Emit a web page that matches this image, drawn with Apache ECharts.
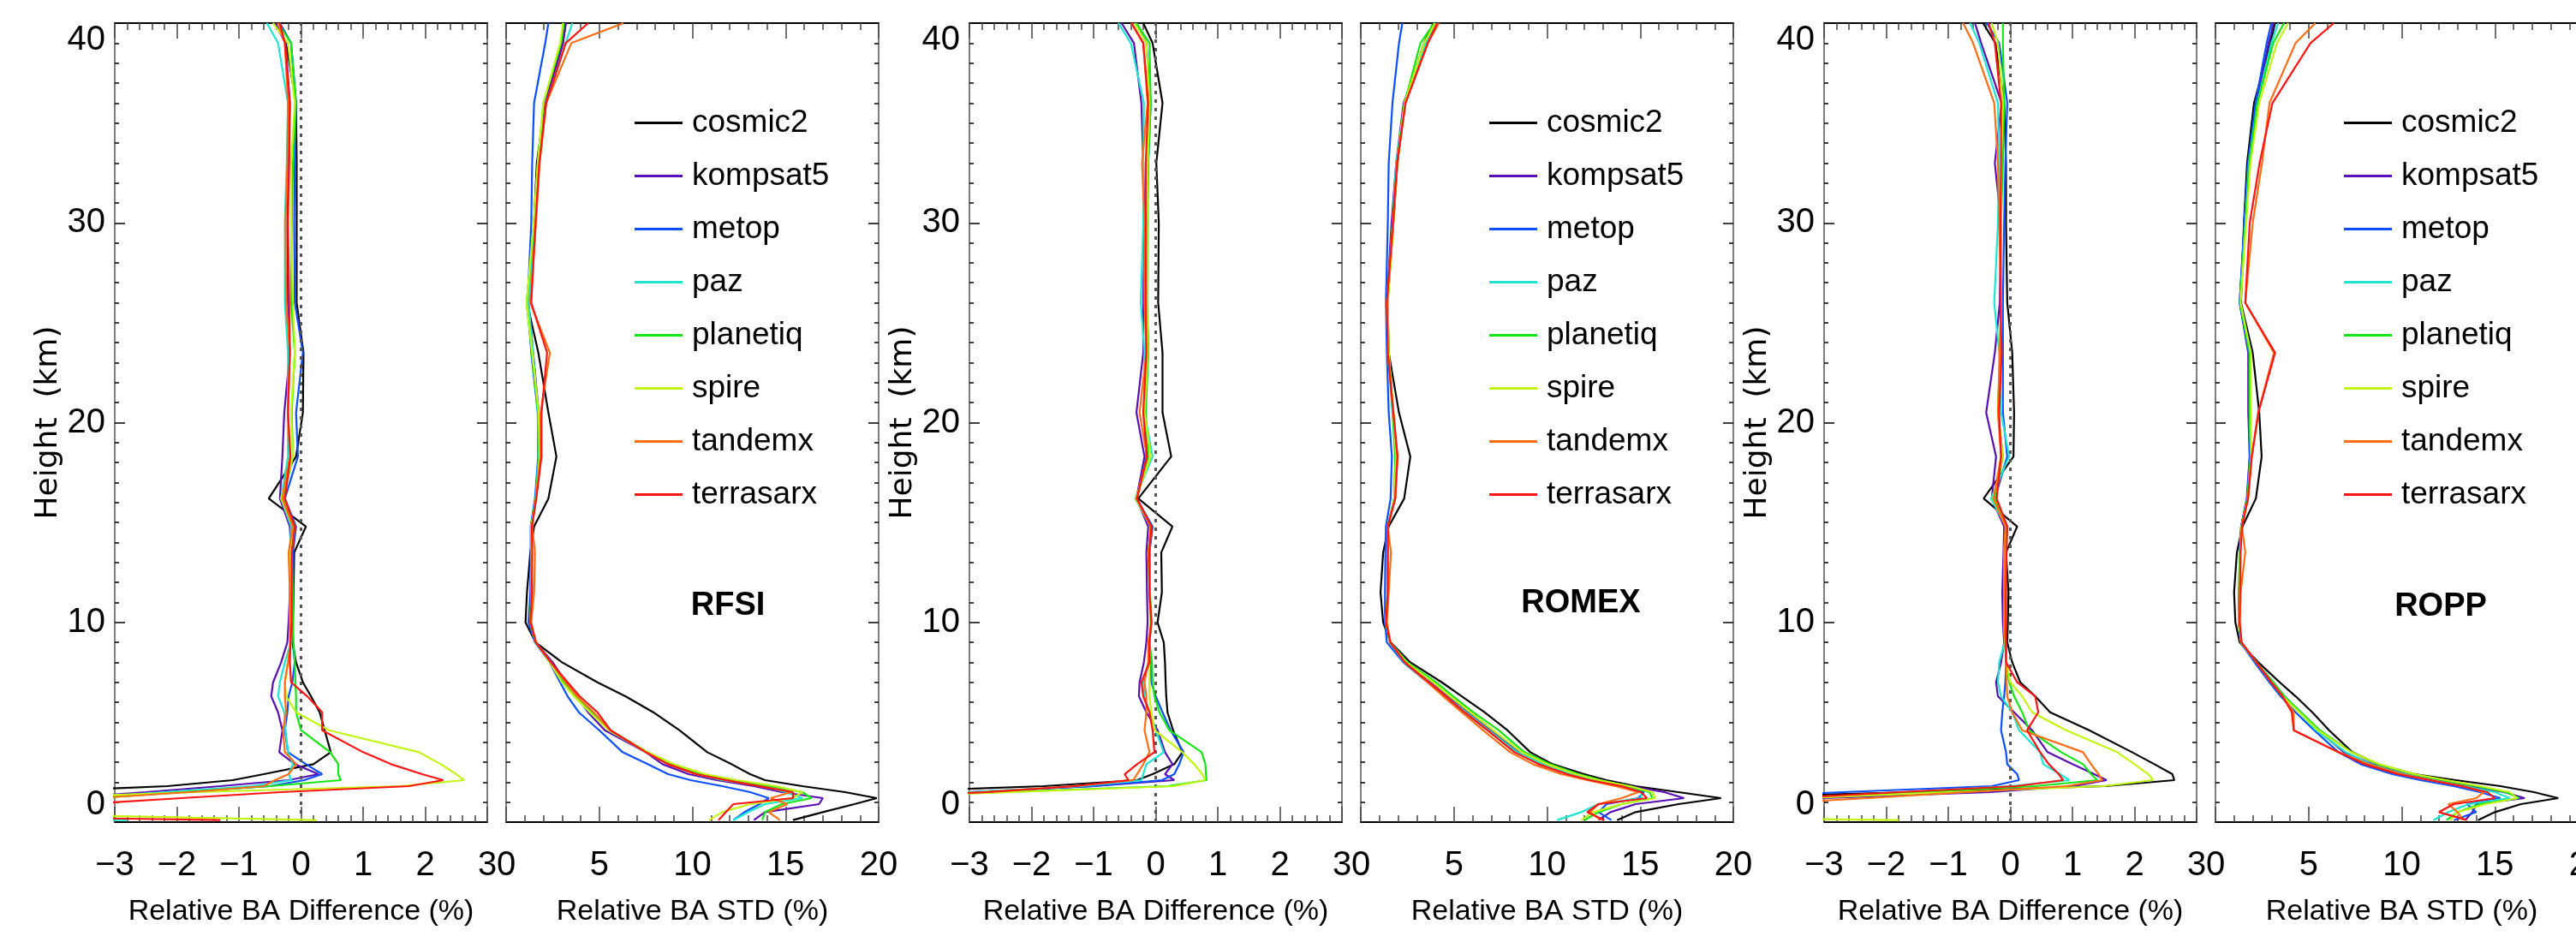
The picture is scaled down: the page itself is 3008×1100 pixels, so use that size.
<!DOCTYPE html>
<html>
<head>
<meta charset="utf-8">
<style>
  html, body { margin: 0; padding: 0; background: #ffffff; }
  #chart { width: 3008px; height: 1100px; }
</style>
<script src="https://cdn.jsdelivr.net/npm/echarts@6/dist/echarts.min.js"></script>
</head>
<body>
<div id="chart"></div>
<script>
// ---------------- DATA ----------------
const SATELLITES = ['cosmic2', 'kompsat5', 'metop', 'paz', 'planetiq', 'spire', 'tandemx', 'terrasarx'];
const COLORS = ['#000000', '#5a0fb4', '#0a50ff', '#1ee6d2', '#14e614', '#c3f514', '#ff6e14', '#ff1414'];

// Heights (km) at which the profile values are read
const HEIGHTS = [40, 39, 36, 33, 30, 26, 23.5, 20.5, 18.3, 16.2, 14.8, 13.5, 11.5, 10, 9, 8, 7, 6.3, 5.5, 4.6, 3.5, 2.9, 2.4, 2.1, 1.8, 1.5, 1.2, 0.9, 0.5, 0.1];

const BIAS_TICKS = [-3, -2, -1, 0, 1, 2, 3];
const STD_TICKS = [0, 5, 10, 15, 20];
const HEIGHT_TICKS = [0, 10, 20, 30, 40];

// RFSI relative BA difference (%), one row per satellite (order of SATELLITES)
const RFSI_DIFF = [
  [-0.42, -0.24, -0.08, -0.07, -0.07, -0.07, 0.04, 0.03, -0.08, -0.52, 0.08, -0.11, -0.12, -0.13, -0.14, -0.08, 0.03, 0.16, 0.30, 0.38, 0.48, 0.20, -0.60, -1.10, -2.15, -4.5, -6, -8, -9, -9],
  [-0.42, -0.25, -0.18, -0.20, -0.22, -0.21, -0.18, -0.27, -0.30, -0.34, -0.18, -0.16, -0.18, -0.20, -0.22, -0.32, -0.45, -0.48, -0.37, -0.30, -0.35, -0.10, 0.28, -0.20, -1.3, -2.5, -3.8, -5, -8, -8],
  [-0.34, -0.16, -0.08, -0.10, -0.11, -0.10, 0.03, -0.08, -0.05, -0.26, -0.08, -0.13, -0.13, -0.15, -0.13, -0.10, -0.14, -0.20, -0.22, -0.26, -0.21, 0.08, 0.34, 0.05, -0.5, -2.0, -3.5, -6, -9, -9],
  [-0.55, -0.37, -0.21, -0.23, -0.26, -0.26, -0.21, -0.21, -0.21, -0.32, -0.16, -0.18, -0.18, -0.18, -0.16, -0.26, -0.34, -0.37, -0.27, -0.25, -0.21, -0.13, -0.20, -0.15, -0.8, -2.2, -3.6, -6, -12, -2.8],
  [-0.37, -0.16, -0.08, -0.13, -0.15, -0.16, -0.10, -0.15, -0.13, -0.29, -0.10, -0.15, -0.13, -0.13, -0.12, -0.10, -0.09, -0.08, -0.08, 0.00, 0.47, 0.60, 0.60, 0.64, -0.5, -1.9, -3.3, -6, -9, -9],
  [-0.45, -0.21, -0.10, -0.16, -0.16, -0.13, -0.10, -0.16, -0.13, -0.32, -0.13, -0.17, -0.17, -0.17, -0.17, -0.21, -0.26, -0.24, -0.08, 0.45, 1.90, 2.25, 2.50, 2.63, 1.6, -1.7, -4.5, -6, -6.25, 0.25],
  [-0.37, -0.26, -0.21, -0.22, -0.25, -0.24, -0.18, -0.21, -0.18, -0.30, -0.13, -0.20, -0.18, -0.18, -0.17, -0.21, -0.26, -0.26, -0.24, -0.29, -0.26, -0.08, -0.20, -0.42, -0.6, -1.8, -3.3, -6, -9, -9],
  [-0.34, -0.26, -0.18, -0.19, -0.21, -0.19, -0.18, -0.21, -0.17, -0.26, -0.10, -0.15, -0.15, -0.15, -0.17, -0.18, -0.16, 0.10, 0.34, 0.34, 1.00, 1.45, 1.95, 2.29, 1.74, -0.33, -1.93, -3.5, -9.8, -1.3]
];

// RFSI relative BA STD (%)
const RFSI_STD = [
  [3.2, 3.05, 2.1, 1.65, 1.5, 1.12, 1.73, 2.27, 2.7, 2.27, 1.5, 1.3, 1.12, 1.04, 1.58, 3.0, 4.9, 6.4, 7.9, 9.3, 10.8, 12.1, 13.1, 13.9, 15.9, 18.2, 19.9, 18.7, 17.0, 15.4],
  [3.2, 3.05, 2.1, 1.75, 1.55, 1.2, 1.45, 1.75, 1.78, 1.6, 1.35, 1.35, 1.4, 1.28, 1.58, 2.5, 3.2, 3.8, 4.4, 5.3, 7.5, 8.4, 9.8, 11.3, 13.3, 14.8, 17.0, 16.8, 13.9, 13.3],
  [2.27, 2.1, 1.5, 1.4, 1.35, 1.15, 1.35, 1.7, 1.72, 1.55, 1.32, 1.32, 1.3, 1.2, 1.55, 2.34, 2.9, 3.3, 3.9, 5.0, 6.25, 7.6, 8.7, 9.9, 11.6, 13.1, 14.1, 13.6, 12.8, 12.2],
  [3.55, 3.2, 2.15, 1.78, 1.55, 1.2, 1.45, 1.7, 1.75, 1.58, 1.35, 1.35, 1.35, 1.3, 1.58, 2.4, 3.1, 3.7, 4.6, 5.5, 7.5, 8.7, 10.2, 11.6, 13.9, 15.0, 15.9, 13.9, 13.0, 12.2],
  [3.1, 2.95, 2.0, 1.7, 1.5, 1.1, 1.38, 1.72, 1.78, 1.6, 1.35, 1.35, 1.35, 1.3, 1.58, 2.4, 3.1, 3.65, 4.6, 5.6, 7.6, 8.85, 10.5, 12.1, 14.2, 15.9, 16.4, 14.8, 13.9, 13.75],
  [3.05, 2.9, 2.0, 1.7, 1.48, 1.1, 1.4, 1.75, 1.8, 1.62, 1.35, 1.38, 1.38, 1.3, 1.6, 2.34, 3.0, 3.65, 4.5, 5.5, 7.6, 9.0, 10.7, 12.4, 14.5, 15.9, 15.4, 13.1, 11.6, 10.9],
  [6.3, 3.5, 2.15, 1.8, 1.6, 1.3, 2.35, 1.85, 1.85, 1.6, 1.4, 1.55, 1.5, 1.35, 1.6, 2.4, 3.2, 3.8, 4.7, 5.6, 7.5, 8.7, 10.2, 11.8, 13.6, 15.3, 14.2, 15.1, 14.1, 14.7],
  [4.4, 3.2, 2.15, 1.78, 1.58, 1.35, 2.2, 1.9, 1.9, 1.62, 1.38, 1.4, 1.38, 1.3, 1.6, 2.4, 3.3, 3.95, 4.9, 5.6, 7.5, 8.7, 10.2, 11.8, 13.6, 15.4, 15.4, 12.2, 11.8, 11.4]
];

// ROMEX relative BA difference (%)
const ROMEX_DIFF = [
  [-0.20, -0.05, 0.11, 0.01, 0.05, 0.04, 0.11, 0.11, 0.25, -0.28, 0.27, 0.09, 0.10, 0.03, 0.13, 0.15, 0.16, 0.17, 0.19, 0.28, 0.43, 0.30, -0.05, -0.30, -1.8, -4.5, -6, -8, -8, -8],
  [-0.55, -0.35, -0.23, -0.20, -0.18, -0.20, -0.20, -0.31, -0.18, -0.31, -0.12, -0.15, -0.14, -0.13, -0.15, -0.19, -0.26, -0.27, -0.15, 0.03, 0.15, 0.27, 0.15, 0.30, -1.0, -3.0, -5, -8, -8, -8],
  [-0.31, -0.15, -0.08, -0.12, -0.14, -0.14, -0.12, -0.18, -0.15, -0.31, -0.05, -0.10, -0.10, -0.07, -0.10, -0.08, -0.07, 0.00, 0.11, 0.24, 0.45, 0.38, 0.30, 0.10, -1.0, -3.0, -5, -8, -8, -8],
  [-0.60, -0.40, -0.19, -0.20, -0.20, -0.24, -0.18, -0.18, -0.05, -0.33, -0.08, -0.12, -0.10, -0.08, -0.10, -0.12, -0.20, -0.18, -0.10, 0.00, 0.13, -0.15, -0.20, -0.23, -1.2, -3.0, -5, -8, -8, -8],
  [-0.31, -0.10, -0.08, -0.12, -0.13, -0.14, -0.12, -0.16, -0.12, -0.31, -0.08, -0.10, -0.09, -0.07, -0.10, -0.06, -0.05, -0.02, 0.06, 0.22, 0.74, 0.80, 0.81, 0.82, 0.2, -2.5, -5, -8, -8, -8],
  [-0.34, -0.15, -0.10, -0.13, -0.14, -0.14, -0.13, -0.18, -0.08, -0.32, -0.08, -0.10, -0.10, -0.08, -0.10, -0.10, -0.10, -0.10, -0.07, -0.02, 0.43, 0.62, 0.75, 0.80, 0.3, -2.3, -5, -8, -8, -8],
  [-0.39, -0.20, -0.13, -0.22, -0.18, -0.18, -0.15, -0.26, -0.14, -0.31, -0.08, -0.12, -0.10, -0.07, -0.12, -0.12, -0.18, -0.15, -0.15, -0.18, -0.10, -0.20, -0.30, -0.36, -1.3, -2.8, -5, -8, -8, -8],
  [-0.39, -0.20, -0.12, -0.16, -0.16, -0.16, -0.15, -0.20, -0.14, -0.30, -0.07, -0.10, -0.10, -0.07, -0.10, -0.10, -0.23, -0.20, -0.10, -0.05, -0.02, -0.30, -0.50, -0.44, -1.3, -2.7, -5, -8, -8, -8]
];

// ROMEX relative BA STD (%)
const ROMEX_STD = [
  [3.9, 3.4, 2.36, 1.97, 1.75, 1.44, 1.5, 2.05, 2.66, 2.33, 1.5, 1.2, 1.06, 1.2, 1.6, 2.66, 4.35, 5.42, 6.64, 7.87, 9.1, 10.3, 12.0, 13.2, 14.75, 17.05, 19.34, 17.05, 14.75, 13.76],
  [4.0, 3.5, 2.3, 1.9, 1.65, 1.4, 1.5, 1.72, 1.9, 1.8, 1.45, 1.45, 1.45, 1.35, 1.58, 2.36, 3.73, 4.65, 5.72, 6.95, 8.48, 9.85, 11.4, 12.6, 14.45, 16.3, 17.35, 14.75, 13.4, 12.76],
  [2.23, 2.05, 1.7, 1.5, 1.45, 1.35, 1.4, 1.5, 1.67, 1.6, 1.35, 1.32, 1.3, 1.3, 1.4, 2.28, 3.58, 4.5, 5.57, 6.8, 8.32, 9.7, 11.23, 12.46, 14.0, 15.2, 14.9, 13.2, 12.76, 13.45],
  [4.0, 3.5, 2.35, 1.9, 1.7, 1.4, 1.45, 1.7, 1.85, 1.8, 1.45, 1.45, 1.45, 1.35, 1.55, 2.33, 3.66, 4.58, 5.65, 6.87, 8.4, 9.78, 11.3, 12.53, 14.06, 15.05, 15.05, 12.76, 11.84, 10.54],
  [3.95, 3.2, 2.35, 1.95, 1.72, 1.45, 1.5, 1.72, 1.85, 1.8, 1.45, 1.45, 1.45, 1.35, 1.58, 2.5, 4.04, 4.96, 6.03, 7.4, 8.78, 10.16, 11.7, 12.9, 14.3, 15.5, 15.67, 14.0, 12.76, 12.0],
  [4.0, 3.4, 2.35, 1.95, 1.75, 1.45, 1.5, 1.75, 1.9, 1.8, 1.45, 1.45, 1.45, 1.35, 1.58, 2.43, 3.89, 4.8, 5.88, 7.1, 8.63, 10.0, 11.54, 12.76, 14.45, 15.67, 15.82, 14.0, 12.46, 11.84],
  [4.2, 3.6, 2.4, 1.95, 1.75, 1.4, 1.45, 1.75, 1.97, 1.85, 1.45, 1.62, 1.5, 1.4, 1.6, 2.36, 3.58, 4.42, 5.42, 6.56, 8.02, 9.24, 10.77, 12.15, 13.68, 14.9, 14.0, 12.76, 12.3, 12.9],
  [4.1, 3.6, 2.4, 1.95, 1.72, 1.4, 1.45, 1.75, 1.97, 1.85, 1.45, 1.45, 1.45, 1.35, 1.58, 2.36, 3.66, 4.58, 5.57, 6.8, 8.25, 9.55, 11.08, 12.3, 14.0, 15.05, 15.36, 12.76, 12.15, 13.07]
];

// ROPP relative BA difference (%)
const ROPP_DIFF = [
  [-0.44, -0.24, -0.10, -0.07, -0.07, -0.05, 0.03, 0.06, 0.05, -0.43, 0.11, -0.07, -0.03, -0.04, -0.05, 0.03, 0.16, 0.40, 0.64, 1.27, 1.96, 2.32, 2.61, 2.64, 1.53, -1.58, -5, -8, -9, -9],
  [-0.57, -0.47, -0.14, -0.25, -0.15, -0.17, -0.25, -0.39, -0.23, -0.30, -0.10, -0.11, -0.13, -0.12, -0.10, -0.15, -0.23, -0.20, 0.06, 0.35, 0.60, 1.00, 1.35, 1.55, 1.02, -0.32, -3.0, -6, -9, -9],
  [-0.38, -0.18, -0.05, -0.08, -0.10, -0.12, -0.12, -0.12, -0.05, -0.25, -0.05, -0.08, -0.08, -0.10, -0.08, -0.07, -0.08, -0.10, -0.13, -0.15, -0.07, -0.05, 0.11, 0.14, -0.3, -2.7, -5, -8, -9, -9],
  [-0.65, -0.50, -0.20, -0.18, -0.20, -0.26, -0.18, -0.15, -0.02, -0.31, -0.07, -0.10, -0.10, -0.10, -0.09, -0.18, -0.20, -0.15, 0.03, 0.14, 0.48, 0.53, 0.80, 0.95, 0.0, -1.7, -3.3, -6, -9, -9],
  [-0.12, -0.12, -0.10, -0.12, -0.15, -0.15, -0.17, -0.20, -0.12, -0.25, -0.05, -0.08, -0.10, -0.10, -0.07, -0.06, -0.02, 0.06, 0.19, 0.30, 0.82, 1.17, 1.30, 1.40, 0.4, -1.5, -3.5, -6, -9, -9],
  [-0.30, -0.20, -0.12, -0.15, -0.15, -0.15, -0.16, -0.20, -0.12, -0.28, -0.07, -0.09, -0.10, -0.10, -0.08, -0.07, 0.00, 0.19, 0.35, 0.90, 1.72, 2.00, 2.22, 2.30, 1.5, -1.0, -3.3, -6, -12, -1.8],
  [-0.76, -0.60, -0.26, -0.20, -0.18, -0.15, -0.17, -0.20, -0.15, -0.27, -0.08, -0.10, -0.10, -0.10, -0.08, -0.07, -0.06, -0.05, 0.03, 0.19, 1.17, 1.30, 1.42, 1.48, 0.9, -0.7, -2.3, -4, -9, -9],
  [-0.35, -0.25, -0.15, -0.15, -0.16, -0.16, -0.14, -0.18, -0.15, -0.22, -0.05, -0.06, -0.07, -0.07, -0.07, -0.07, 0.11, 0.40, 0.45, 0.27, 0.48, 0.62, 0.78, 0.85, 0.1, -1.8, -3.6, -6, -9, -9]
];

// ROPP relative BA STD (%)
const ROPP_STD = [
  [3.2, 2.95, 2.07, 1.7, 1.53, 1.37, 2.0, 2.35, 2.48, 2.17, 1.45, 1.15, 1.0, 1.07, 1.3, 2.3, 3.45, 4.3, 5.2, 6.1, 7.35, 8.7, 10.7, 12.9, 15.3, 17.1, 18.4, 16.4, 15.0, 14.1],
  [3.14, 2.85, 2.2, 1.76, 1.56, 1.3, 1.76, 1.76, 1.84, 1.68, 1.38, 1.3, 1.27, 1.25, 1.38, 2.2, 3.1, 3.7, 4.5, 5.5, 6.9, 8.4, 10.2, 11.8, 13.6, 15.5, 16.6, 14.0, 13.8, 13.4],
  [3.0, 2.75, 2.15, 1.75, 1.55, 1.3, 1.8, 1.8, 1.84, 1.7, 1.38, 1.3, 1.27, 1.25, 1.35, 2.1, 2.9, 3.5, 4.3, 5.3, 6.6, 7.8, 9.5, 11.0, 12.8, 14.2, 15.3, 13.5, 14.0, 12.8],
  [3.37, 3.0, 2.25, 1.8, 1.6, 1.32, 1.84, 1.84, 1.9, 1.72, 1.4, 1.32, 1.3, 1.27, 1.38, 2.2, 3.1, 3.7, 4.5, 5.4, 7.0, 8.3, 10.1, 11.7, 13.4, 15.0, 15.8, 13.6, 12.5, 11.7],
  [3.68, 3.1, 2.25, 1.82, 1.62, 1.32, 1.84, 1.84, 1.9, 1.72, 1.4, 1.32, 1.3, 1.27, 1.38, 2.2, 3.1, 3.7, 4.6, 5.6, 7.3, 8.7, 10.6, 12.2, 14.0, 15.6, 16.3, 14.2, 13.0, 12.4],
  [3.9, 3.3, 2.35, 1.88, 1.65, 1.35, 1.9, 1.9, 1.92, 1.75, 1.4, 1.32, 1.3, 1.27, 1.38, 2.2, 3.0, 3.6, 4.5, 5.5, 7.3, 8.8, 10.7, 12.4, 14.2, 15.8, 16.2, 14.5, 13.0, 12.6],
  [5.36, 4.3, 2.9, 2.5, 2.0, 1.6, 3.14, 2.3, 1.95, 1.75, 1.42, 1.6, 1.35, 1.3, 1.4, 2.2, 3.0, 3.6, 4.2, 4.2, 6.6, 8.2, 10.0, 11.6, 13.3, 14.4, 14.0, 12.5, 13.0, 13.3],
  [6.35, 5.1, 3.06, 2.37, 1.84, 1.6, 3.2, 2.3, 1.95, 1.75, 1.42, 1.35, 1.32, 1.3, 1.4, 2.2, 3.0, 3.6, 4.1, 4.2, 6.6, 8.0, 9.8, 11.5, 13.2, 14.6, 15.0, 12.8, 12.0, 13.5]
];

// ---------------- LAYOUT / STYLE ----------------
const NARROW = "'Liberation Sans Narrow', 'Liberation Sans', sans-serif";
const PLOT_TOP = 27, PLOT_H = 933, PLOT_W = 435;
const PANELS = [
  { values: RFSI_DIFF,  kind: 'diff', left: 134 },
  { values: RFSI_STD,   kind: 'std',  left: 591,  tag: 'RFSI',  tagPos: [850, 708] },
  { values: ROMEX_DIFF, kind: 'diff', left: 1132 },
  { values: ROMEX_STD,  kind: 'std',  left: 1589, tag: 'ROMEX', tagPos: [1846, 705] },
  { values: ROPP_DIFF,  kind: 'diff', left: 2130 },
  { values: ROPP_STD,   kind: 'std',  left: 2587, tag: 'ROPP',  tagPos: [2850, 709] }
];

const grids = [], xAxes = [], yAxes = [], series = [], legends = [], graphics = [];

PANELS.forEach((p, i) => {
  grids.push({
    left: p.left, top: PLOT_TOP, width: PLOT_W, height: PLOT_H,
    containLabel: false, outerBoundsMode: 'none'
  });
  const ticks = p.kind === 'diff' ? BIAS_TICKS : STD_TICKS;
  const xMin = ticks[0], xMax = ticks[ticks.length - 1], xInt = ticks[1] - ticks[0];
  const xBase = {
    type: 'value', gridIndex: i, min: xMin, max: xMax, interval: xInt,
    axisLine: { show: true, onZero: false, lineStyle: { color: '#000', width: 2 } },
    axisTick: { show: true, inside: true, length: 18, lineStyle: { color: '#444', width: 1.5 } },
    minorTick: { show: true, splitNumber: 5, length: 8, lineStyle: { color: '#444', width: 1.5 } },
    splitLine: { show: false }, minorSplitLine: { show: false }
  };
  xAxes.push(Object.assign({}, xBase, {
    position: 'bottom',
    axisLabel: {
      show: true, margin: 31, fontSize: 40, fontFamily: NARROW, color: '#000',
      formatter: v => String(v).replace('-', '\u2212')
    },
    name: p.kind === 'diff' ? 'Relative BA Difference (%)' : 'Relative BA STD (%)',
    nameLocation: 'middle', nameGap: 88,
    nameTextStyle: { fontSize: 34, fontFamily: NARROW, color: '#000' }
  }));
  xAxes.push(Object.assign({}, xBase, { position: 'top', axisLabel: { show: false } }));

  const yBase = {
    type: 'value', gridIndex: i, min: HEIGHT_TICKS[0], max: HEIGHT_TICKS[HEIGHT_TICKS.length - 1],
    interval: HEIGHT_TICKS[1] - HEIGHT_TICKS[0],
    axisLine: { show: true, onZero: false, lineStyle: { color: '#555', width: 1.5 } },
    axisTick: { show: true, inside: true, length: 12, lineStyle: { color: '#000', width: 1.5 } },
    minorTick: { show: true, splitNumber: 10, length: 5, lineStyle: { color: '#000', width: 1.5 } },
    splitLine: { show: false }, minorSplitLine: { show: false }
  };
  const left = Object.assign({}, yBase, {
    position: 'left',
    axisLabel: {
      show: p.kind === 'diff', margin: 11, fontSize: 40, fontFamily: NARROW, color: '#000',
      verticalAlignMinLabel: 'bottom', verticalAlignMaxLabel: 'top'
    }
  });
  if (p.kind === 'diff') {
    left.name = 'Height  (km)';
    left.nameLocation = 'middle';
    left.nameGap = 50;
    left.nameRotate = 90;
    left.nameTextStyle = { fontSize: 36, fontFamily: "'DejaVu Sans', sans-serif", color: '#000' };
  }
  yAxes.push(left);
  yAxes.push(Object.assign({}, yBase, { position: 'right', axisLabel: { show: false } }));

  p.values.forEach((vals, s) => {
    const ser = {
      type: 'line', name: SATELLITES[s],
      xAxisIndex: 2 * i, yAxisIndex: 2 * i,
      data: HEIGHTS.map((h, k) => [vals[k], h]),
      showSymbol: false, symbol: 'none', clip: true, silent: true, animation: false,
      lineStyle: { color: COLORS[s], width: 2.2 },
      itemStyle: { color: COLORS[s] },
      z: 2 + s
    };
    if (p.kind === 'diff' && s === 0) {
      ser.markLine = {
        silent: true, symbol: ['none', 'none'], animation: false,
        label: { show: false },
        lineStyle: { type: [4, 6], color: '#555', width: 3 },
        data: [{ xAxis: 0 }]
      };
    }
    series.push(ser);
  });

  if (p.kind === 'std') {
    legends.push({
      show: true, orient: 'vertical', left: p.left + 145, top: 120,
      icon: 'rect', itemWidth: 56, itemHeight: 3, itemGap: 25,
      selectedMode: false, data: SATELLITES,
      textStyle: { fontSize: 37, fontFamily: NARROW, color: '#000', padding: [0, 0, 0, 6] }
    });
    graphics.push({
      type: 'text', x: p.tagPos[0], y: p.tagPos[1], silent: true,
      style: {
        text: p.tag, fill: '#000', align: 'center', verticalAlign: 'middle',
        font: "bold 38px 'Liberation Sans', Arial, sans-serif"
      }
    });
  }
});

const chart = echarts.init(document.getElementById('chart'), null, { renderer: 'canvas', width: 3008, height: 1100 });
chart.setOption({
  backgroundColor: '#ffffff',
  animation: false,
  grid: grids,
  xAxis: xAxes,
  yAxis: yAxes,
  legend: legends,
  graphic: graphics,
  series: series
});
</script>
</body>
</html>
